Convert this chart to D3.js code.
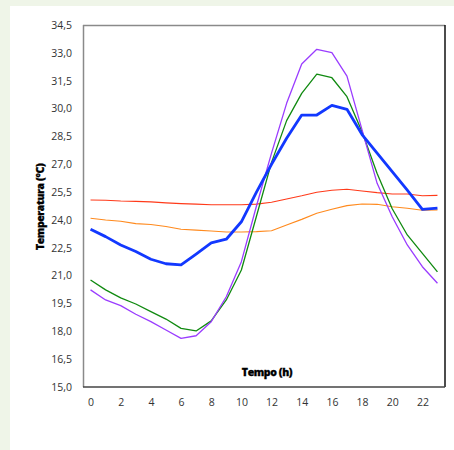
<!DOCTYPE html>
<html>
<head>
<meta charset="utf-8">
<script src="https://cdn.jsdelivr.net/npm/d3@7"></script>
<style>
  body { margin: 0; background: #eff5e8; }
  #chart { position: absolute; left: 10px; top: 6px; width: 444px; height: 444px; background: #fff; }
  text { font-family: "Open Sans", "Liberation Sans", sans-serif; }
</style>
</head>
<body>
<div id="chart"></div>
<script>
// hours of the day
var hours = d3.range(0, 24)
var xTicks = [0, 2, 4, 6, 8, 10, 12, 14, 16, 18, 20, 22]
var yTicks = [15, 16.5, 18, 19.5, 21, 22.5, 24, 25.5, 27, 28.5, 30, 31.5, 33, 34.5]

// temperature series (°C)
var blueSeries = [23.5, 23.1, 22.65, 22.3, 21.88, 21.64, 21.58, 22.16, 22.76, 22.96, 23.9, 25.5, 27.0, 28.4, 29.65, 29.65, 30.17, 29.96, 28.6, 27.6, 26.6, 25.6, 24.57, 24.63]
var greenSeries = [20.76, 20.23, 19.8, 19.47, 19.06, 18.66, 18.16, 18.02, 18.56, 19.69, 21.3, 24.2, 27.1, 29.35, 30.82, 31.85, 31.66, 30.64, 28.75, 26.5, 24.6, 23.19, 22.2, 21.2]
var purpleSeries = [20.23, 19.69, 19.38, 18.92, 18.52, 18.07, 17.62, 17.76, 18.52, 19.86, 21.75, 24.75, 27.6, 30.28, 32.4, 33.19, 33.01, 31.75, 28.85, 25.97, 24.17, 22.65, 21.48, 20.59]
var redSeries = [25.07, 25.06, 25.02, 25.0, 24.97, 24.92, 24.88, 24.85, 24.82, 24.82, 24.82, 24.85, 24.95, 25.13, 25.3, 25.49, 25.6, 25.65, 25.56, 25.47, 25.4, 25.4, 25.3, 25.32]
var orangeSeries = [24.09, 24.0, 23.93, 23.8, 23.75, 23.65, 23.5, 23.45, 23.4, 23.35, 23.35, 23.37, 23.42, 23.73, 24.03, 24.36, 24.57, 24.77, 24.86, 24.84, 24.71, 24.63, 24.52, 24.54]

var series = [
    {name: "orange", values: orangeSeries, color: "#ff8a1e", width: 1.1},
    {name: "red", values: redSeries, color: "#ff3a1a", width: 1.1},
    {name: "green", values: greenSeries, color: "#108a10", width: 1.3},
    {name: "purple", values: purpleSeries, color: "#9a3cff", width: 1.3},
    {name: "blue", values: blueSeries, color: "#1238ff", width: 2.8}
]

// plot area inside the white panel (panel starts at 10,6)
var margin = {top: 19, right: 9, bottom: 63, left: 73},
    width = 444 - margin.left - margin.right,
    height = 444 - margin.top - margin.bottom;

var svg = d3.select("#chart")
    .append("svg")
    .attr("width", 444)
    .attr("height", 444)
    .append("g")
    .attr("transform", "translate(" + margin.left + "," + margin.top + ")");

var x = d3.scaleLinear()
    .domain([-0.5, 23.5])
    .range([0, width]);

var y = d3.scaleLinear()
    .domain([15, 34.5])
    .range([height, 0]);

// x axis labels
svg.append("g")
    .attr("transform", "translate(0," + height + ")")
    .call(d3.axisBottom(x).tickValues(xTicks).tickSize(0).tickPadding(12).tickFormat(d3.format("d")))
    .call(function(g){ g.select(".domain").remove() })
    .selectAll("text")
    .style("font-size", "10.5px")
    .attr("fill", "#333");

// y axis labels
var fmt = function(v){ return v.toFixed(1).replace(".", ",") }
svg.append("g")
    .call(d3.axisLeft(y).tickValues(yTicks).tickSize(0).tickPadding(11).tickFormat(fmt))
    .call(function(g){ g.select(".domain").remove() })
    .selectAll("text")
    .style("font-size", "10.5px")
    .attr("fill", "#333");

// lines
var line = d3.line()
    .x(function(d, i){ return x(hours[i]) })
    .y(function(d){ return y(d) });

svg.selectAll(".series")
    .data(series)
    .enter()
    .append("path")
    .attr("class", "series")
    .attr("fill", "none")
    .attr("stroke", function(d){ return d.color })
    .attr("stroke-width", function(d){ return d.width })
    .attr("stroke-linejoin", "round")
    .attr("d", function(d){ return line(d.values) });

// plot frame
svg.append("line").attr("x1", 0).attr("x2", width).attr("y1", 0.5).attr("y2", 0.5)
    .attr("stroke", "#8a8a8a").attr("stroke-width", 1.5);
svg.append("line").attr("x1", 0.5).attr("x2", 0.5).attr("y1", 0).attr("y2", height)
    .attr("stroke", "#8a8a8a").attr("stroke-width", 1.5);
svg.append("line").attr("x1", width).attr("x2", width).attr("y1", 0).attr("y2", height)
    .attr("stroke", "#111").attr("stroke-width", 1.5);
svg.append("line").attr("x1", 0).attr("x2", width).attr("y1", height).attr("y2", height)
    .attr("stroke", "#444").attr("stroke-width", 1.5);

// axis titles
svg.append("text")
    .attr("x", x(11.7))
    .attr("y", height - 11)
    .attr("text-anchor", "middle")
    .style("font-size", "10.5px")
    .style("font-weight", "800")
    .style("letter-spacing", "-0.4px")
    .attr("stroke", "#000")
    .attr("stroke-width", 0.3)
    .text("Tempo (h)");

svg.append("text")
    .attr("transform", "translate(" + (-43) + "," + (y(24.7)) + ") rotate(-90)")
    .attr("text-anchor", "middle")
    .attr("dy", "0.35em")
    .style("font-size", "10.5px")
    .style("font-weight", "800")
    .style("letter-spacing", "-0.4px")
    .attr("stroke", "#000")
    .attr("stroke-width", 0.3)
    .text("Temperatura (°C)");
</script>
</body>
</html>
